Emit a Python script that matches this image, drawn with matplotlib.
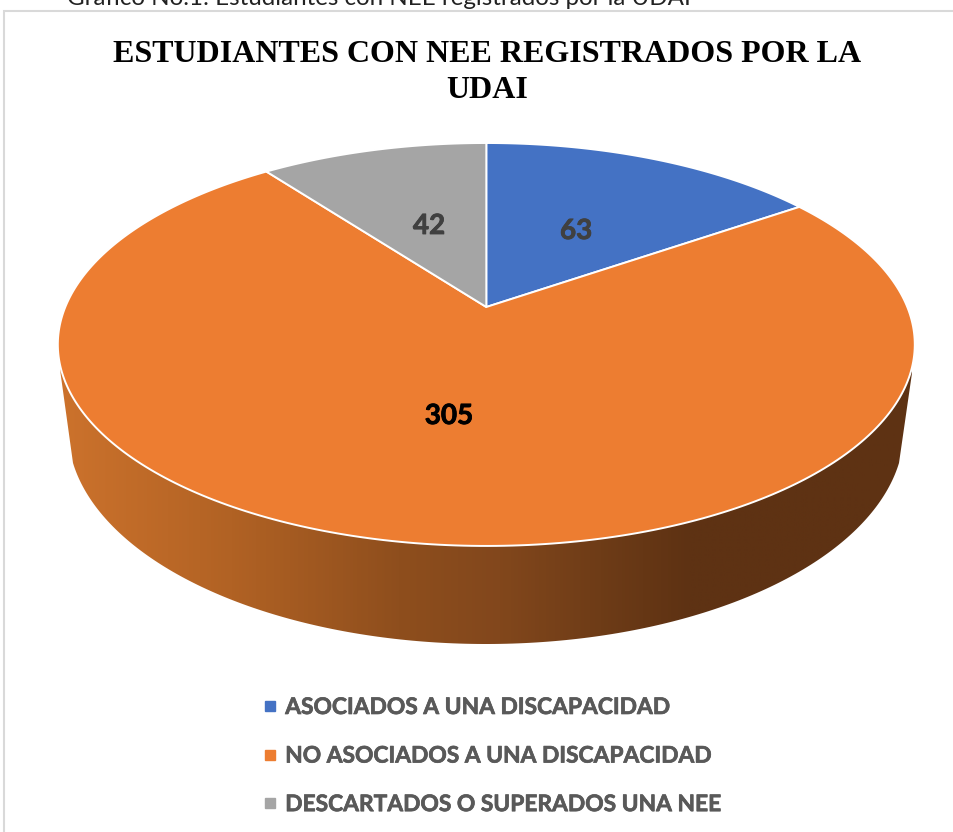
import numpy as np
import matplotlib
matplotlib.use("Agg")
import matplotlib.pyplot as plt
from matplotlib.colors import LinearSegmentedColormap
from matplotlib.lines import Line2D
from matplotlib.patches import Polygon, Rectangle
import matplotlib.patheffects as pe

caption = "Gráfico No.1: Estudiantes con NEE registrados por la UDAI"
title_lines = ["ESTUDIANTES CON NEE REGISTRADOS POR LA", "UDAI"]
categories = ["ASOCIADOS A UNA DISCAPACIDAD", "NO ASOCIADOS A UNA DISCAPACIDAD", "DESCARTADOS O SUPERADOS UNA NEE"]
values = [63, 305, 42]
colors = ["#4472C4", "#ED7D31", "#A5A5A5"]
label_pos = [(576, 231), (449, 416), (429, 226)]
label_colors = ["#404040", "#000000", "#404040"]

W, H = 954, 832
fig = plt.figure(figsize=(W / 100, H / 100), dpi=100, facecolor="white")
ax = fig.add_axes([0, 0, 1, 1])
ax.set_xlim(0, W)
ax.set_ylim(H, 0)
ax.axis("off")

# perspective projection of the disc
CX, CY, A, B, K = 486.3, 307.0, 421.0, 194.5, 0.186


def project(theta):
    u, v = np.sin(theta), np.cos(theta)
    d = 1 + K * v
    return CX + A * u / d, CY - B * v / d


# frame
ax.add_patch(Rectangle((4, 11), W + 20, H + 20, fc="white", ec="#D9D9D9", lw=1.5, zorder=0))

# side wall
BX, BY, BA, BB = 486.0, 430.0, 418.0, 214.0
phi0 = np.arcsin((463 - BY) / BB)
phi = np.linspace(phi0, np.pi - phi0, 200)
bx = BX + BA * np.cos(phi)
by = BY + BB * np.sin(phi)
wall_pts = np.vstack([[[912, 345], [912, 373]], np.c_[bx, by], [[60.5, 373], [60.5, 345]]])
wall = Polygon(wall_pts, closed=True, fc="none", ec="none", zorder=1)
ax.add_patch(wall)
stops = [(60, "#CC722C"), (230, "#B16224"), (400, "#8E4E1D"), (500, "#82471C"),
         (600, "#6E3C17"), (690, "#5E3213"), (954, "#5E3213")]
cmap = LinearSegmentedColormap.from_list("wall", [((x - 60) / (954 - 60), c) for x, c in stops])
im = ax.imshow(np.linspace(0, 1, 900)[None, :], extent=(60, 954, 660, 340), cmap=cmap,
               aspect="auto", zorder=1, interpolation="bilinear")
im.set_clip_path(wall)
ax.set_xlim(0, W)
ax.set_ylim(H, 0)

# top face, one slice per value
total = sum(values)
angle = 0.0
for val, col in zip(values, colors):
    end = angle + 2 * np.pi * val / total
    th = np.linspace(angle, end, 300)
    x, y = project(th)
    pts = np.vstack([[[CX, CY]], np.c_[x, y]])
    ax.add_patch(Polygon(pts, closed=True, fc=col, ec="white", lw=1.4, joinstyle="miter", zorder=2))
    angle = end

# value labels
for val, (lx, ly), lc in zip(values, label_pos, label_colors):
    ax.text(lx, ly, str(val), ha="center", va="center", fontsize=20, fontweight="bold",
            family="Lato", color=lc, zorder=3,
            path_effects=[pe.withStroke(linewidth=0.6, foreground=lc)])

# texts
ax.text(67, 5, caption, ha="left", va="baseline", fontsize=17.4, family="Lato", color="#222222")
ax.text(487, 54.5, title_lines[0], ha="center", va="center",
        fontsize=23, fontweight="bold", family="Liberation Serif", color="black")
ax.text(487, 90, title_lines[1], ha="center", va="center",
        fontsize=23, fontweight="bold", family="Liberation Serif", color="black")

# legend
handles = [Line2D([], [], marker="s", ls="none", ms=7.2, mfc=c, mec=c) for c in colors]
leg = ax.legend(handles, categories, loc="upper left", bbox_to_anchor=(259 / W, 1 - 697 / H),
                frameon=False, handlelength=1.0, handletextpad=0.15, labelspacing=1.21,
                borderpad=0, borderaxespad=0,
                prop={"family": "Lato", "weight": "bold", "size": 16.4})
for txt in leg.get_texts():
    txt.set_color("#595959")
    txt.set_path_effects([pe.withStroke(linewidth=0.5, foreground="#595959")])

fig.savefig("out.png", dpi=100)
